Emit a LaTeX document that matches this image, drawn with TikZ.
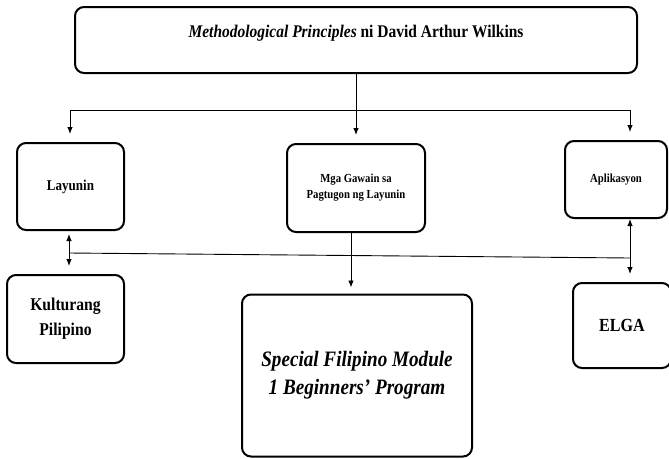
\documentclass[tikz,border=0pt]{standalone}
\usepackage{fontspec}
\setmainfont{Liberation Serif}[FakeStretch=0.87]
\usetikzlibrary{arrows.meta}

\tikzset{
    box/.style={draw, line width=2pt, rounded corners=9pt, inner sep=0pt, align=center, font=\bfseries},
    link/.style={line width=0.9pt},
    tip/.style={-{Latex[length=7pt,width=5.5pt]}},
    tips/.style={{Latex[length=7pt,width=5.5pt]}-{Latex[length=7pt,width=5.5pt]}},
}

\begin{document}
\begin{tikzpicture}[x=1pt, y=-1pt]
    \useasboundingbox (0,0) rectangle (669,458);

    % Title
    \node[box, minimum width=562pt, minimum height=66pt, text height=12pt, text depth=17pt,
          font=\bfseries\fontsize{17.8}{20}\selectfont] (title) at (356,40)
        {\textit{Methodological Principles} ni David Arthur Wilkins};

    % Upper row
    \node[box, minimum width=107pt, minimum height=87pt, font=\bfseries\fontsize{15}{18}\selectfont]
        (layunin) at (70.5,186.5) {Layunin};
    \node[box, minimum width=138pt, minimum height=88pt, font=\bfseries\fontsize{12.3}{16}\selectfont]
        (gawain) at (356,188) {Mga Gawain sa\\Pagtugon ng Layunin};
    \node[box, minimum width=102pt, minimum height=77pt, font=\bfseries\fontsize{12.3}{15}\selectfont]
        (aplikasyon) at (616,179.5) {Aplikasyon};

    % Lower row
    \node[box, minimum width=117pt, minimum height=88pt, font=\bfseries\fontsize{18}{25}\selectfont]
        (kultura) at (65.5,319) {Kulturang\\Pilipino};
    \node[box, minimum width=230pt, minimum height=162pt, font=\bfseries\itshape\fontsize{22}{28}\selectfont]
        (module) at (357,375.5) {Special Filipino Module\\1 Beginners' Program};
    \node[box, minimum width=98pt, minimum height=85pt, font=\bfseries\fontsize{18.5}{22}\selectfont]
        (elga) at (622,325.5) {ELGA};

    % Branch points
    \coordinate (hl) at (70,110);
    \coordinate (hm) at (356,110);
    \coordinate (hr) at (630,110);
    \coordinate (cl) at (69,253);
    \coordinate (cr) at (630,258);
    \coordinate (cm) at (351,232);

    % Title to upper row
    \draw[link] (title.south) -- (hm);
    \draw[link] (hl) -- (hr);
    \draw[link, tip, shorten >=8pt] (hl) -- (hl |- layunin.north);
    \draw[link, tip, shorten >=8pt] (hm) -- (hm |- gawain.north);
    \draw[link, tip, shorten >=8pt] (hr) -- (hr |- aplikasyon.north);

    % Cross links
    \draw[link, tips, shorten <=3pt, shorten >=8pt] (cl |- layunin.south) -- (cl |- kultura.north);
    \draw[link] (cl) -- (cr);
    \draw[link, tip] (cr) -- (cr |- aplikasyon.south);
    \draw[link, tip, shorten >=8pt] (cr) -- (cr |- elga.north);
    \draw[link, tip, shorten >=6pt] (cm) -- (cm |- module.north);
\end{tikzpicture}
\end{document}
